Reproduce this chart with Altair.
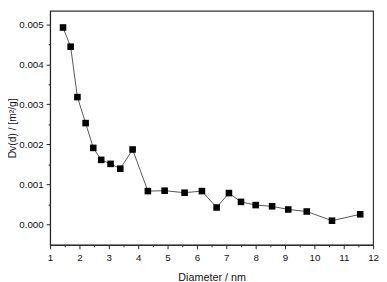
import altair as alt
import pandas as pd

diameter = [1.44, 1.70, 1.93, 2.21, 2.47, 2.74, 3.06, 3.39, 3.81, 4.33, 4.90, 5.58,
            6.17, 6.67, 7.09, 7.50, 8.00, 8.56, 9.11, 9.74, 10.60, 11.56]
dv = [0.00492, 0.00444, 0.00318, 0.00253, 0.00191, 0.00161, 0.00151, 0.00139, 0.00187,
      0.00083, 0.00084, 0.00079, 0.00083, 0.00042, 0.00078, 0.00056, 0.00048, 0.00045,
      0.00037, 0.00032, 0.00009, 0.00025]

x_ticks = [1 + 0.5 * i for i in range(23)]
y_ticks = [round(0.0005 * i, 4) for i in range(11)]

df = pd.DataFrame({"d": diameter, "dv": dv})

font = "Liberation Sans"

x_enc = alt.X("d:Q", scale=alt.Scale(domain=[1, 12], nice=False, zero=False),
              axis=alt.Axis(title="Diameter / nm", values=x_ticks,
                            labelExpr="abs(datum.value - round(datum.value)) < 0.01 ? format(datum.value, 'd') : ''",
                            tickSize={"condition": {"test": "abs(datum.value - round(datum.value)) > 0.01", "value": 2}, "value": 4},
                            grid=False, domainColor="#222", tickColor="#222",
                            labelFont=font, labelFontSize=10, labelColor="#111",
                            titleFont=font, titleFontSize=11, titleFontWeight="normal",
                            titleColor="#111", labelPadding=4, titlePadding=9,
                            labelFlush=False))
y_enc = alt.Y("dv:Q", scale=alt.Scale(domain=[-0.000514, 0.005335], nice=False, zero=False),
              axis=alt.Axis(title="Dv(d) / [m²/g]", values=y_ticks,
                            labelExpr="abs(datum.value*1000 - round(datum.value*1000)) < 0.01 ? format(datum.value, '.3f') : ''",
                            tickSize={"condition": {"test": "abs(datum.value*1000 - round(datum.value*1000)) > 0.01", "value": 2}, "value": 4},
                            grid=False, domainColor="#222", tickColor="#222",
                            labelFont=font, labelFontSize=10, labelColor="#111",
                            titleFont=font, titleFontSize=10.5, titleFontWeight="normal",
                            titleColor="#111", labelPadding=3, titlePadding=1,
                            labelFlush=False))

line = alt.Chart(df).mark_line(color="#555", strokeWidth=1).encode(x=x_enc, y=y_enc)
pts = alt.Chart(df).mark_point(shape="square", filled=True, color="black", size=45, opacity=1).encode(x=x_enc, y=y_enc)

chart = (line + pts).properties(
    width=330, height=239,
    autosize=alt.AutoSizeParams(type="none"),
    padding={"left": 43, "top": 0, "right": 6, "bottom": 35},
).configure_view(stroke="#333", strokeWidth=1.2)

chart.save("out.html", embed_options={"renderer": "svg", "actions": False})
